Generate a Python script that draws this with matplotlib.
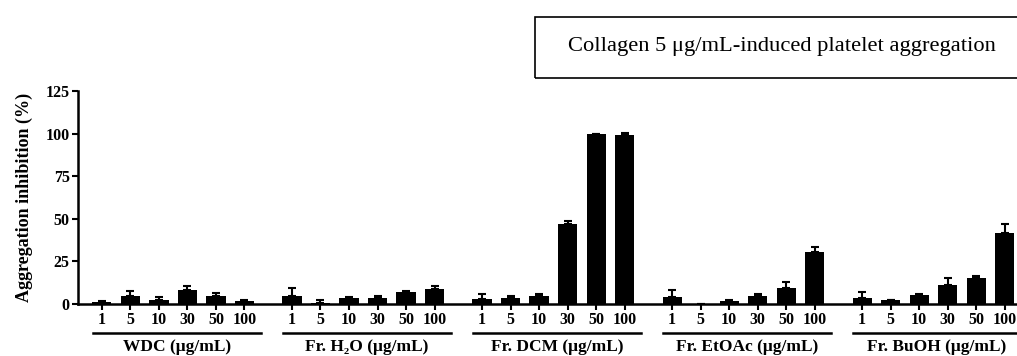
import numpy as np
import matplotlib.pyplot as plt
import matplotlib.transforms as mtransforms
from matplotlib.patches import Rectangle

# Datos
doses = ['1', '5', '10', '30', '50', '100']
groups = ['WDC (μg/mL)', 'Fr. H₂O (μg/mL)', 'Fr. DCM (μg/mL)',
          'Fr. EtOAc (μg/mL)', 'Fr. BuOH (μg/mL)']
wdc = [1.0, 4.9, 2.2, 8.2, 4.7, 1.8]
wdc_err = [0.8, 2.9, 2.1, 2.2, 1.8, 0.7]
h2o = [4.5, 0.8, 3.7, 3.7, 7.0, 8.6]
h2o_err = [4.7, 1.5, 0.4, 1.2, 0.6, 1.8]
dcm = [2.7, 3.3, 4.9, 47.0, 100.0, 99.2]
dcm_err = [3.4, 1.2, 0.8, 1.5, 0.0, 1.0]
etoac = [3.9, 0.0, 2.0, 4.7, 9.4, 30.7]
etoac_err = [4.5, 0.0, 0.3, 1.4, 3.3, 2.6]
buoh = [3.3, 2.2, 5.1, 11.2, 15.1, 41.5]
buoh_err = [3.7, 0.3, 0.8, 4.1, 1.3, 5.6]

series = [(wdc, wdc_err), (h2o, h2o_err), (dcm, dcm_err),
          (etoac, etoac_err), (buoh, buoh_err)]

plt.rcParams['font.family'] = ['Liberation Serif', 'DejaVu Serif']

fig = plt.figure(figsize=(10.17, 3.56), dpi=100)
ax = fig.add_axes([0.0767, 0.146, 0.9233, 0.598])

gap = 20 / 3
xs_all, labels_all = [], []
for g, (vals, errs) in enumerate(series):
    x = g * gap + np.arange(len(vals))
    ax.bar(x, vals, width=0.67, color='black')
    ax.errorbar(x, vals, yerr=[np.zeros(len(errs)), errs], fmt='none',
                ecolor='black', elinewidth=1.5, capsize=3, capthick=1.5)
    xs_all.extend(x)
    labels_all.extend(doses)

ax.set_xlim(-0.84, 32.1)
ax.set_ylim(0, 125)
ax.set_yticks([0, 25, 50, 75, 100, 125])
ax.set_xticks(xs_all)
ax.set_xticklabels(labels_all, fontsize=11.5, fontweight='bold')
for lbl in ax.get_yticklabels():
    lbl.set_fontsize(11.5)
    lbl.set_fontweight('bold')
ax.tick_params(axis='both', width=1.5, length=4, pad=2)
ax.spines['top'].set_visible(False)
ax.spines['right'].set_visible(False)
ax.spines['left'].set_linewidth(1.8)
ax.spines['bottom'].set_linewidth(1.8)
ax.set_ylabel('Aggregation inhibition (%)', fontsize=13, fontweight='bold', labelpad=9)

# Líneas y nombres de cada grupo
trans = mtransforms.blended_transform_factory(ax.transData, ax.transAxes)
for g, name in enumerate(groups):
    x0 = g * gap - 0.33
    x1 = g * gap + 5 + 0.58
    ax.plot([x0, x1], [-0.136, -0.136], color='black', lw=1.8,
            transform=trans, clip_on=False)
    ax.text((x0 + x1) / 2, -0.2, name, transform=trans, ha='center', va='center',
            fontsize=12.5, fontweight='bold')

# Caja del título
fig.patches.append(Rectangle((535 / 1017, 1 - 78 / 356), 0.6, 61 / 356,
                             transform=fig.transFigure, fill=False,
                             edgecolor='black', lw=1.2))
fig.text(782 / 1017, 1 - 47 / 356, 'Collagen 5 μg/mL-induced platelet aggregation',
         ha='center', va='center', fontsize=16.2)

fig.savefig('out.png', dpi=100)
